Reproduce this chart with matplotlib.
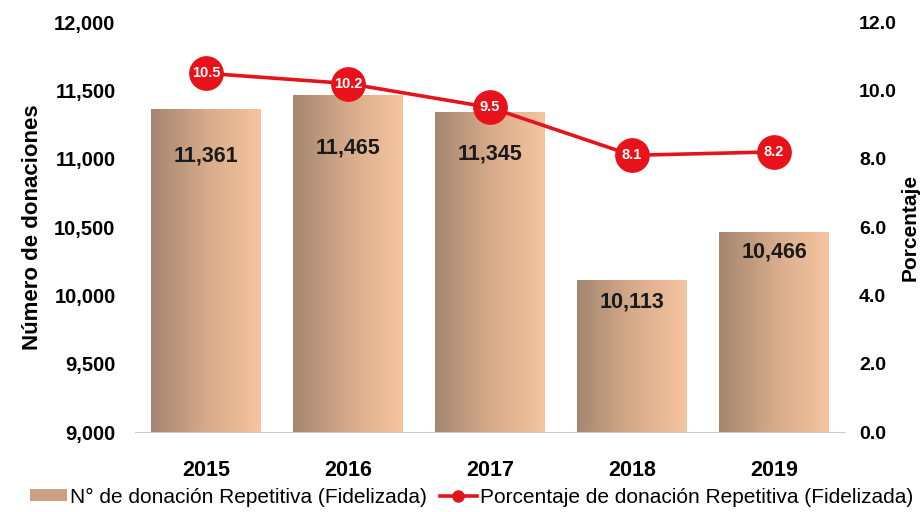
import numpy as np
import matplotlib
matplotlib.use("Agg")
import matplotlib.pyplot as plt
from matplotlib.colors import LinearSegmentedColormap
from matplotlib.patches import Patch
from matplotlib.lines import Line2D

plt.rcParams["font.family"] = ["Liberation Sans", "DejaVu Sans"]

years = ["2015", "2016", "2017", "2018", "2019"]
donaciones = [11361, 11465, 11345, 10113, 10466]
porcentaje = [10.5, 10.2, 9.5, 8.1, 8.2]

# how far below the bar top each count label sits (data units), as in the source
label_drop = [340, 390, 310, 160, 150]

fig = plt.figure(figsize=(9.21, 5.12), dpi=100)
ax = fig.add_axes([0.1466, 0.156, 0.771, 0.801])
ax2 = ax.twinx()

x = np.arange(len(years))
bars = ax.bar(x, donaciones, width=0.77, color="none", zorder=2)

# horizontal brown -> peach gradient inside each bar
cmap = LinearSegmentedColormap.from_list("peach", ["#a48670", "#d6aa8a", "#f6c5a0"])
grad = np.linspace(0, 1, 256).reshape(1, -1)
for b in bars:
    x0, y0 = b.get_x(), b.get_y()
    w, h = b.get_width(), b.get_height()
    im = ax.imshow(grad, cmap=cmap, aspect="auto", extent=[x0, x0 + w, 9000, y0 + h],
                   zorder=2)
    im.set_clip_path(b)

for xi, v, d in zip(x, donaciones, label_drop):
    ax.text(xi, v - d, f"{v:,}", ha="center", va="center", fontsize=15.5,
            fontweight="bold", color="#1a1a1a", zorder=4)

ax.set_xlim(-0.5, len(years) - 0.5)
ax.set_ylim(9000, 12000)
ax.set_yticks(np.arange(9000, 12001, 500))
ax.set_yticklabels([f"{t:,}" for t in range(9000, 12001, 500)])
ax.set_xticks(x)
ax.set_xticklabels(years)
ax.tick_params(axis="x", length=0, pad=20, labelsize=15.5)
ax.tick_params(axis="y", length=0, pad=14, labelsize=14.5)
for lab in ax.get_xticklabels() + ax.get_yticklabels():
    lab.set_fontweight("bold")
ax.set_ylabel("Número de donaciones", fontsize=16, fontweight="bold", labelpad=8)
for s in ["top", "left", "right"]:
    ax.spines[s].set_visible(False)
ax.spines["bottom"].set_color("#c8ccd0")

ax2.plot(x, porcentaje, color="#e3141b", lw=2.6, marker="o", ms=24,
         markerfacecolor="#e8121a", markeredgecolor="#e8121a", zorder=5)
for xi, p in zip(x, porcentaje):
    ax2.text(xi, p, f"{p:.1f}", ha="center", va="center", fontsize=10.5,
             fontweight="bold", color="white", zorder=6)
ax2.set_ylim(0, 12)
ax2.set_yticks(np.arange(0, 12.1, 2))
ax2.set_yticklabels([f"{t:.1f}" for t in np.arange(0, 12.1, 2)])
ax2.tick_params(axis="y", length=0, pad=10, labelsize=14)
for lab in ax2.get_yticklabels():
    lab.set_fontweight("bold")
ax2.set_ylabel("Porcentaje", fontsize=15, fontweight="bold", labelpad=3)
for s in ["top", "left", "right", "bottom"]:
    ax2.spines[s].set_visible(False)

ax.set_zorder(1)
ax2.set_zorder(2)
ax2.patch.set_visible(False)

handles = [Patch(facecolor="#c9a083", edgecolor="none"),
           Line2D([0], [0], color="#e3141b", lw=2.6, marker="o", ms=8)]
fig.legend(handles, ["N° de donación Repetitiva (Fidelizada)",
                     "Porcentaje de donación Repetitiva (Fidelizada)"],
           loc="center", bbox_to_anchor=(0.512, 0.029), ncol=2, frameon=False,
           fontsize=15, handlelength=1.8, handleheight=0.5, handletextpad=0.15,
           columnspacing=0.6, borderpad=0.2)

fig.savefig("out.png", dpi=100)
